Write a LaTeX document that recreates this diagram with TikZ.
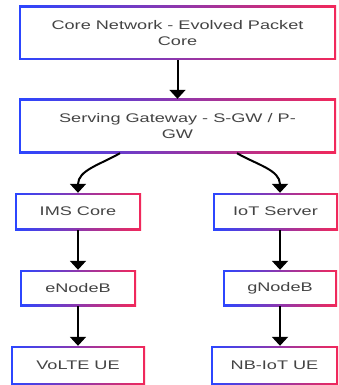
\documentclass[tikz,border=0pt]{standalone}
\usepackage{fontspec}
\setmainfont{Liberation Sans}[FakeStretch=1.45]
\usetikzlibrary{arrows.meta}
\definecolor{gblue}{HTML}{2B46FF}
\definecolor{gpurple}{HTML}{9B3FC8}
\definecolor{gred}{HTML}{F2285A}
\definecolor{txtgray}{HTML}{444444}
\tikzset{
  gbox/.style={rectangle, inner sep=2pt, align=center, text=txtgray,
    font=\fontsize{12.5}{16}\selectfont,
    path picture={
      \shade[left color=gblue, middle color=gpurple, right color=gred]
        (path picture bounding box.south west) rectangle (path picture bounding box.north east);
      \fill[white] ([shift={(2pt,2pt)}]path picture bounding box.south west)
        rectangle ([shift={(-2pt,-2pt)}]path picture bounding box.north east);
    }},
  link/.style={-{Triangle[width=16pt,length=9pt]}, line width=2pt, black}
}

\begin{document}
\begin{tikzpicture}[x=1pt,y=-1pt]
    \useasboundingbox (0,0) rectangle (339,385);
    \node[gbox, minimum width=317pt, minimum height=54pt] (core) at (177.5,33) {Core Network - Evolved Packet\\Core};
    \node[gbox, minimum width=317pt, minimum height=54pt] (sgw) at (177.5,126) {Serving Gateway - S-GW / P-\\GW};
    \node[gbox, minimum width=126pt, minimum height=37pt] (ims) at (78,211.5) {IMS Core};
    \node[gbox, minimum width=125pt, minimum height=37pt] (iot) at (275.5,211.5) {IoT Server};
    \node[gbox, minimum width=116pt, minimum height=36pt] (enb) at (78,288) {eNodeB};
    \node[gbox, minimum width=114pt, minimum height=36pt] (gnb) at (280,288) {gNodeB};
    \node[gbox, minimum width=134pt, minimum height=39pt] (volte) at (78,365.5) {VoLTE UE};
    \node[gbox, minimum width=127pt, minimum height=39pt] (nbiot) at (274.5,365.5) {NB-IoT UE};

    \draw[link] (core) -- (sgw);
    \draw[link] ([xshift=-57.5pt]sgw.south) to[out=-150,in=90] (ims);
    \draw[link] ([xshift=59.5pt]sgw.south) to[out=-30,in=90] (iot.north -| gnb);
    \draw[link] (ims) -- (enb);
    \draw[link] (enb) -- (volte);
    \draw[link] (iot.south -| gnb) -- (gnb);
    \draw[link] (gnb) -- (nbiot.north -| gnb);
\end{tikzpicture}
\end{document}
